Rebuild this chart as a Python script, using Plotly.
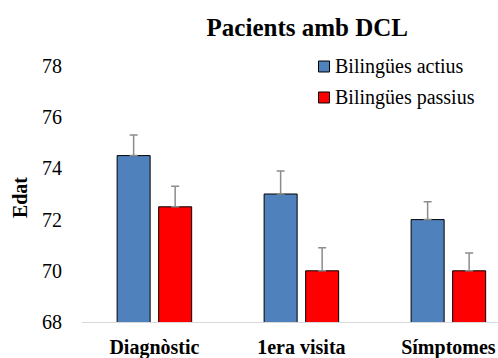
import plotly.graph_objects as go

# Mean age per stage for each patient group, with upward error margins
categories = ["Diagnòstic", "1era visita", "Símptomes"]
series_names = ["Bilingües actius", "Bilingües passius"]
actius_vals = [74.5, 73.0, 72.0]
actius_err = [0.8, 0.9, 0.7]
passius_vals = [72.5, 70.0, 70.0]
passius_err = [0.8, 0.9, 0.7]
y_ticks = [68, 70, 72, 74, 76, 78]

SERIF = "Liberation Serif"
COLORS = ["#4F81BD", "#FF0000"]

fig = go.Figure()
for name, vals, errs, color in zip(series_names, [actius_vals, passius_vals],
                                    [actius_err, passius_err], COLORS):
    fig.add_trace(go.Bar(
        name=name, x=categories, y=vals,
        marker=dict(color=color, line=dict(color="#000000", width=1)),
        error_y=dict(type="data", array=errs, arrayminus=[0] * len(errs),
                     symmetric=False, color="#8C8C8C", thickness=1.5, width=4),
    ))

fig.update_layout(
    width=498, height=358,
    margin=dict(l=82, r=0, t=66, b=36),
    paper_bgcolor="white", plot_bgcolor="white",
    barmode="group", bargap=0.435, bargroupgap=0.205,
    font=dict(family=SERIF, color="#000000"),
    title=dict(text="<b>Pacients amb DCL</b>", x=0.617, xanchor="center",
               y=0.925, yanchor="middle", font=dict(size=25, family=SERIF)),
    showlegend=False,
)
fig.update_xaxes(
    range=[-0.4925, 2.3375], showgrid=False, zeroline=False,
    showline=True, linecolor="#D9D9D9", linewidth=1,
    ticks="", tickfont=dict(size=20, family=SERIF),
    tickprefix="<b>", ticksuffix="</b>", ticklabelstandoff=7,
)
fig.update_yaxes(
    range=[68, 78], tickvals=y_ticks, showgrid=False, zeroline=False,
    showline=False, ticks="", tickfont=dict(size=20, family=SERIF),
    ticklabelstandoff=19,
)
fig.add_annotation(
    text="<b>Edat</b>", textangle=-90, xref="paper", yref="paper",
    x=-0.149, y=0.484, xanchor="center", yanchor="middle", showarrow=False,
    font=dict(size=20, family=SERIF),
)

# Legend: swatch squares with series names beside them
legend_rows = [(1.0195, 0.9766), (0.8984, 0.8555)]
for name, color, (top, bottom) in zip(series_names, COLORS, legend_rows):
    fig.add_shape(type="rect", xref="paper", yref="paper",
                  x0=0.5685, x1=0.595, y0=bottom, y1=top,
                  fillcolor=color, line=dict(color="#000000", width=1))
    fig.add_annotation(
        text=name, xref="paper", yref="paper", x=0.6034,
        y=(top + bottom) / 2, xanchor="left", yanchor="middle",
        showarrow=False, font=dict(size=20, family=SERIF),
    )

fig.write_html("out.html")
